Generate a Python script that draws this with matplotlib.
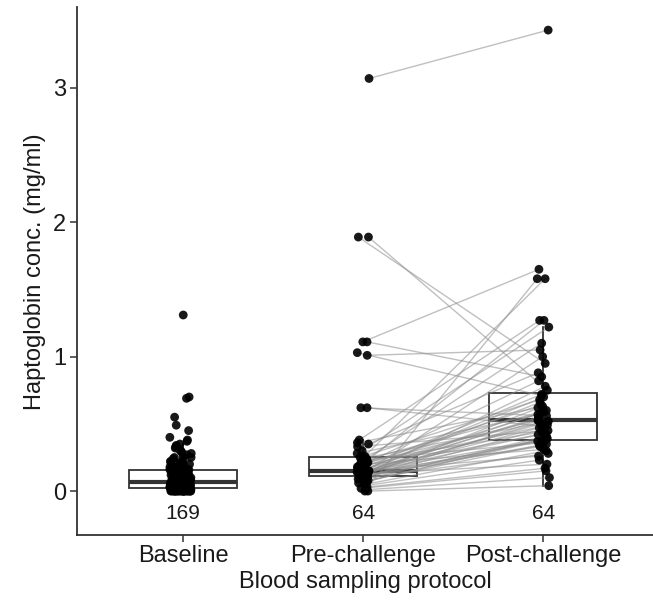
import numpy as np
import matplotlib
matplotlib.use("Agg")
import matplotlib.pyplot as plt

plt.rcParams['font.family'] = ['Liberation Sans', 'DejaVu Sans']

categories = ["Baseline", "Pre-challenge", "Post-challenge"]
counts = [169, 64, 64]

baseline = [
    1.31, 0.70, 0.69, 0.55, 0.49, 0.45, 0.40, 0.38, 0.37, 0.35, 0.34, 0.33, 0.32, 0.31,
    0.30, 0.29, 0.28, 0.27, 0.26, 0.25, 0.25, 0.24, 0.23, 0.22, 0.22, 0.21, 0.21, 0.20,
    0.20, 0.19, 0.19, 0.18, 0.18, 0.18, 0.17, 0.17, 0.17, 0.16, 0.16, 0.16, 0.16, 0.16,
    0.155, 0.15, 0.15, 0.145, 0.14, 0.14, 0.135, 0.13, 0.13, 0.125, 0.12, 0.12, 0.115,
    0.11, 0.11, 0.105, 0.10, 0.10, 0.10, 0.095, 0.095, 0.09, 0.09, 0.09, 0.085, 0.085,
    0.085, 0.08, 0.08, 0.08, 0.08, 0.075, 0.075, 0.075, 0.075, 0.07, 0.07, 0.07, 0.07,
    0.07, 0.068, 0.068,
    0.067,
    0.065, 0.065, 0.06, 0.06, 0.06, 0.06, 0.055, 0.055, 0.055, 0.05, 0.05, 0.05, 0.05,
    0.045, 0.045, 0.045, 0.045, 0.04, 0.04, 0.04, 0.04, 0.04, 0.035, 0.035, 0.035, 0.035,
    0.03, 0.03, 0.03, 0.03, 0.03, 0.028, 0.028, 0.026, 0.026, 0.025, 0.025, 0.024, 0.024,
    0.023, 0.023, 0.022,
    0.02, 0.02, 0.02, 0.018, 0.018, 0.016, 0.015, 0.015, 0.012, 0.012, 0.01, 0.01, 0.01,
    0.008, 0.008, 0.006, 0.005, 0.005, 0.004, 0.003, 0.002, 0.001,
    0.0, 0.0, 0.0, 0.0, 0.0, 0.0, 0.0, 0.0, 0.0, 0.0,
    0.0, 0.0, 0.0, 0.0, 0.0, 0.0, 0.0, 0.0, 0.0, 0.0,
]

# paired samples: pre_challenge[i] -> post_challenge[i]
pre_challenge = [
    3.07, 1.11, 0.00, 0.26, 0.38, 0.17, 0.30, 0.24, 1.01, 0.145, 1.89, 0.35, 1.11, 0.215, 0.125, 1.89,
    0.155, 1.03, 0.14, 0.25, 0.148, 0.19, 0.115, 0.36, 0.23, 0.13, 0.165, 0.28, 0.62, 0.15, 0.145, 0.21,
    0.10, 0.245, 0.12, 0.14, 0.18, 0.62, 0.149, 0.11, 0.33, 0.22, 0.135, 0.16, 0.085, 0.07, 0.095, 0.148,
    0.12, 0.06, 0.235, 0.08, 0.105, 0.14, 0.20, 0.05, 0.09, 0.149, 0.04, 0.13, 0.03, 0.02, 0.01, 0.00,
]
post_challenge = [
    3.43, 1.65, 1.58, 1.58, 1.27, 1.27, 1.22, 1.10, 1.05, 1.00, 0.95, 0.88, 0.85, 0.82, 0.78, 0.75,
    0.72, 0.71, 0.70, 0.68, 0.66, 0.64, 0.63, 0.62, 0.60, 0.59, 0.58, 0.57, 0.56, 0.55, 0.54, 0.53,
    0.525, 0.52, 0.51, 0.50, 0.49, 0.48, 0.47, 0.46, 0.45, 0.44, 0.43, 0.42, 0.41, 0.40, 0.39, 0.385,
    0.375, 0.37, 0.36, 0.35, 0.34, 0.33, 0.31, 0.30, 0.28, 0.26, 0.23, 0.20, 0.17, 0.15, 0.10, 0.04,
]

fig = plt.figure(figsize=(6.53, 6.04), dpi=100)
ax = fig.add_axes([0.118, 0.114, 0.882, 0.874])

dark = '#333333'
data = [baseline, pre_challenge, post_challenge]
pos = [1, 2, 3]
ax.boxplot(data, positions=pos, widths=0.6, showfliers=False, patch_artist=True,
           boxprops=dict(facecolor='white', edgecolor=dark, linewidth=1.3),
           medianprops=dict(color=dark, linewidth=3),
           whiskerprops=dict(color=dark, linewidth=1.3),
           capprops=dict(linewidth=0), zorder=1)

rng = np.random.default_rng(7)
xb = 0.985 + rng.uniform(-0.06, 0.06, len(baseline))
xpre = 2.0 + rng.uniform(-0.035, 0.035, len(pre_challenge))
xpost = 3.0 + rng.uniform(-0.035, 0.035, len(post_challenge))

for a, b, ya, yb in zip(xpre, xpost, pre_challenge, post_challenge):
    ax.plot([a, b], [ya, yb], color='#8c8c8c', alpha=0.55, linewidth=1.0, zorder=2)

for xs, ys in [(xb, baseline), (xpre, pre_challenge), (xpost, post_challenge)]:
    ax.scatter(xs, ys, s=40, color='black', alpha=0.9, edgecolors='none', zorder=3)

for p, n in zip(pos, counts):
    ax.text(p, -0.165, str(n), ha='center', va='center', fontsize=15, color='#1a1a1a')

ax.set_xlim(0.41, 3.61)
ax.set_ylim(-0.328, 3.60)
ax.set_yticks([0, 1, 2, 3])
ax.set_xticks(pos)
ax.set_xticklabels(categories)
for s in ['top', 'right']:
    ax.spines[s].set_visible(False)
for s in ['left', 'bottom']:
    ax.spines[s].set_color(dark)
    ax.spines[s].set_linewidth(1.3)
ax.tick_params(axis='both', length=5, width=1.1, color=dark, labelsize=17, labelcolor='#1a1a1a', pad=3)
ax.tick_params(axis='x', pad=2)
ax.set_xlabel("Blood sampling protocol", fontsize=17, color='#1a1a1a', labelpad=3)
ax.set_ylabel("Haptoglobin conc. (mg/ml)", fontsize=17, color='#1a1a1a', labelpad=5)

fig.savefig("out.png", dpi=100)
